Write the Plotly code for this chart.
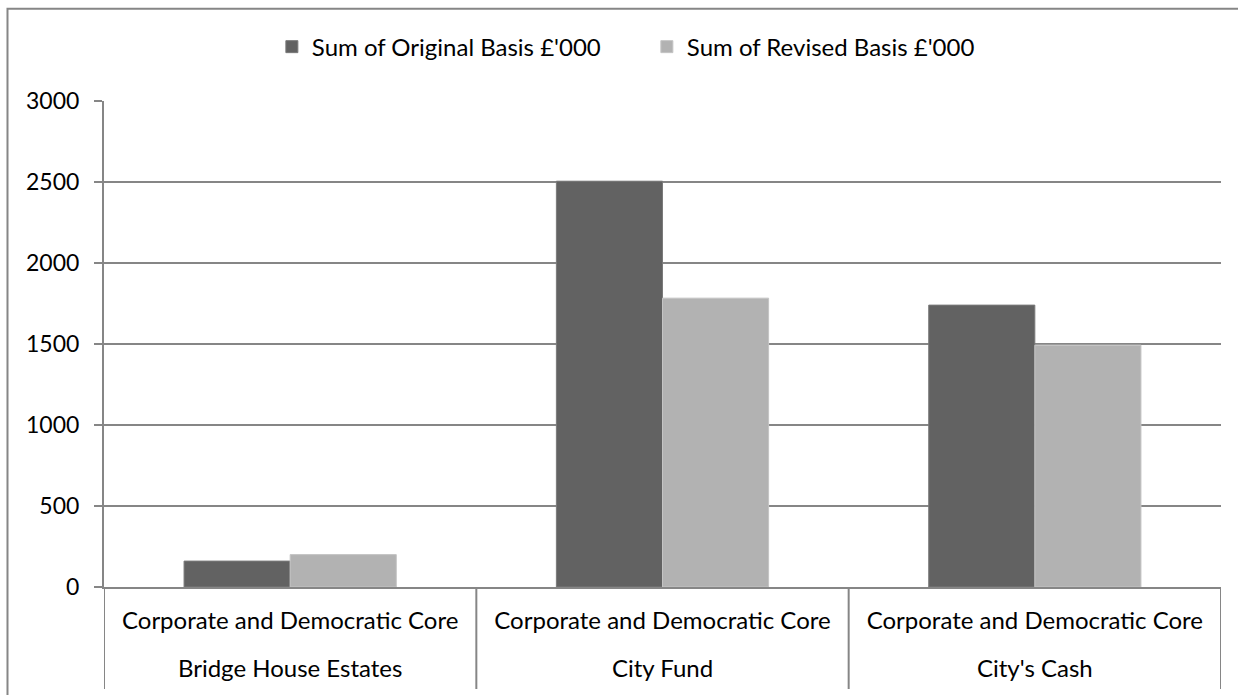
import plotly.graph_objects as go

funds = ["Bridge House Estates", "City Fund", "City's Cash"]
service = "Corporate and Democratic Core"
original_basis = [160, 2505, 1740]
revised_basis = [200, 1783, 1493]
y_ticks = [0, 500, 1000, 1500, 2000, 2500, 3000]

FONT = "Lato"
GRID = "#868686"
FS = 24

fig = go.Figure()
fig.add_trace(go.Bar(
    x=funds, y=original_basis, name="Sum of Original Basis £'000",
    marker=dict(color="#626262", line=dict(color="#7a7a7a", width=1)),
))
fig.add_trace(go.Bar(
    x=funds, y=revised_basis, name="Sum of Revised Basis £'000",
    marker=dict(color="#b2b2b2", line=dict(color="#c4c4c4", width=1)),
))

idx = list(range(len(funds)))
bounds = [i - 0.5 for i in idx] + [idx[-1] + 0.5]
label_bottom = -(689 - 587) / 486

shapes = [dict(type="rect", xref="paper", yref="paper",
               x0=-0.0864, x1=1.2, y0=-0.6, y1=1.19,
               line=dict(color=GRID, width=2), fillcolor="rgba(0,0,0,0)", layer="below")]
for b in bounds:
    shapes.append(dict(type="line", xref="x2", yref="paper", x0=b, x1=b,
                       y0=0, y1=label_bottom, line=dict(color=GRID, width=2)))

fig.update_layout(
    width=1238, height=695,
    margin=dict(l=104, r=17, t=101, b=108),
    paper_bgcolor="white", plot_bgcolor="white",
    font=dict(family=FONT, size=FS, color="black"),
    barmode="group", bargap=0.43, bargroupgap=0,
    showlegend=True,
    legend=dict(orientation="h", x=0.486, xanchor="center", y=1.111, yanchor="middle",
                font=dict(family=FONT, size=FS), bgcolor="rgba(0,0,0,0)",
                traceorder="normal", entrywidth=330, entrywidthmode="pixels"),
    shapes=shapes,
    xaxis=dict(type="category", tickmode="array", tickvals=funds,
               ticktext=[service] * len(funds), showline=True, linecolor=GRID,
               linewidth=2, ticks="", ticklabelstandoff=11,
               tickfont=dict(family=FONT, size=FS, color="black")),
    xaxis2=dict(overlaying="x", side="bottom", range=[bounds[0], bounds[-1]],
                tickmode="array", tickvals=idx, ticktext=funds, showline=False,
                showgrid=False, zeroline=False, ticks="", ticklabelstandoff=65,
                tickfont=dict(family=FONT, size=FS, color="black")),
    yaxis=dict(range=[0, 3000], tickvals=y_ticks, showgrid=True, gridcolor=GRID,
               gridwidth=1.5, showline=True, linecolor=GRID, linewidth=2,
               ticks="outside", ticklen=8, tickcolor=GRID, tickwidth=1.5,
               zeroline=False, ticklabelstandoff=10,
               tickfont=dict(family=FONT, size=23, color="black")),
)

fig.write_html("out.html")
